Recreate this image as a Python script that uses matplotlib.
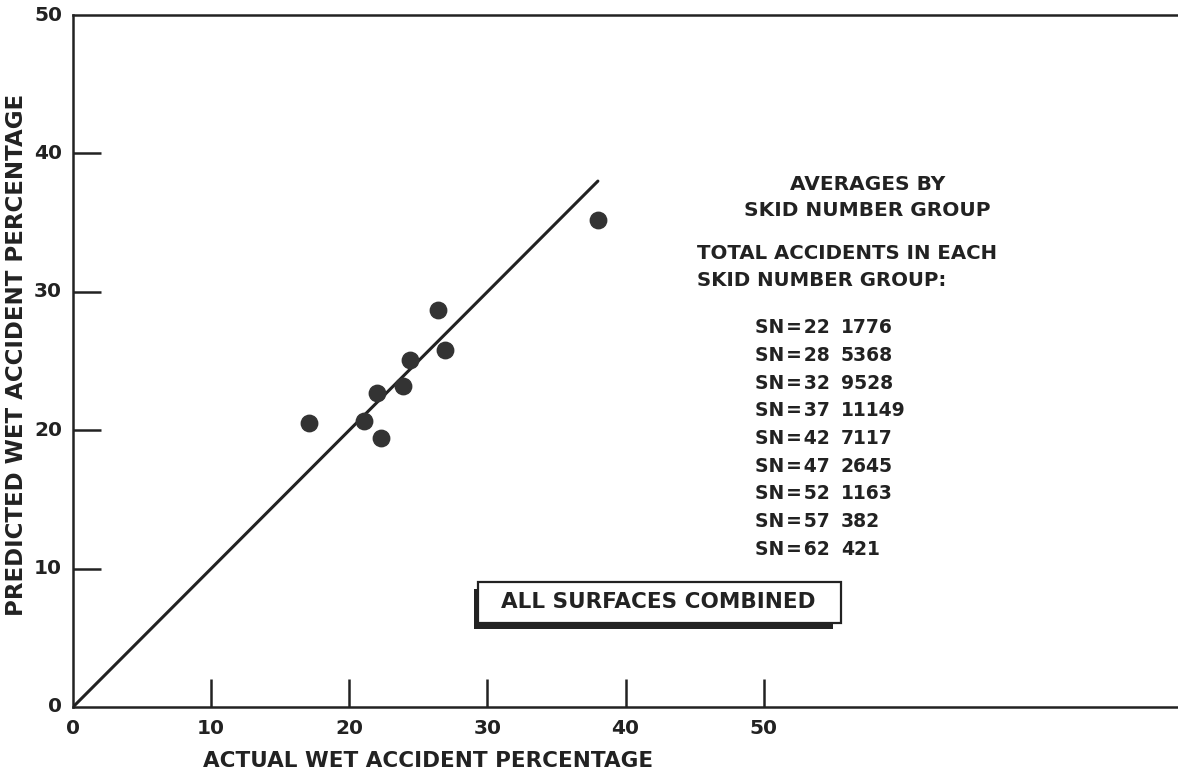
import matplotlib.pyplot as plt
from matplotlib.patches import Rectangle

# averages by skid number group
actual = [17.1, 21.1, 22.0, 22.3, 23.9, 24.4, 26.4, 26.9, 38.0]
predicted = [20.5, 20.7, 22.7, 19.4, 23.2, 25.1, 28.7, 25.8, 35.2]

# reference line (predicted = actual)
line_x = [0, 38]
line_y = [0, 38]

sn_groups = [22, 28, 32, 37, 42, 47, 52, 57, 62]
total_accidents = [1776, 5368, 9528, 11149, 7117, 2645, 1163, 382, 421]

x_ticks = [10, 20, 30, 40, 50]
y_ticks = [10, 20, 30, 40]

plt.rcParams["font.family"] = ["DejaVu Sans"]
plt.rcParams["font.weight"] = "bold"
ink = "#222222"

fig = plt.figure(figsize=(11.78, 7.74), dpi=100)
ax = fig.add_axes([0.062, 0.0866, 0.938, 0.894])

ax.plot(line_x, line_y, color=ink, lw=2.2, solid_capstyle="round")
ax.scatter(actual, predicted, s=140, color="#333333", zorder=3)

ax.set_xlim(0, 80)
ax.set_ylim(0, 50)

ax.spines["right"].set_visible(False)
for s in ["left", "top", "bottom"]:
    ax.spines[s].set_linewidth(1.8)
    ax.spines[s].set_color(ink)

ax.set_xticks(x_ticks)
ax.set_yticks(y_ticks)
ax.tick_params(direction="in", length=20, width=1.8, color=ink,
               labelbottom=False, labelleft=False)

# tick labels drawn separately so 0 and 50 can be labelled without tick marks
for v in [0] + x_ticks:
    ax.text(v, -0.9, str(v), ha="center", va="top", fontsize=14.5,
            fontweight="bold", color=ink)
for v in [0] + y_ticks + [50]:
    ax.text(-0.8, v, str(v), ha="right", va="center", fontsize=14.5,
            fontweight="bold", color=ink)

ax.set_xlabel("ACTUAL WET ACCIDENT PERCENTAGE", fontsize=15.5,
              fontweight="bold", color=ink)
ax.xaxis.set_label_coords(0.321, -0.064)
ax.set_ylabel("PREDICTED WET ACCIDENT PERCENTAGE", fontsize=16.5,
              fontweight="bold", color=ink)
ax.yaxis.set_label_coords(-0.041, 0.509)

# annotation block
ax.text(57.5, 36.8, "AVERAGES BY\nSKID NUMBER GROUP", ha="center", va="center",
        fontsize=14.5, fontweight="bold", color=ink, linespacing=1.45)
ax.text(45.2, 31.8, "TOTAL ACCIDENTS IN EACH\nSKID NUMBER GROUP:", ha="left",
        va="center", fontsize=14.2, fontweight="bold", color=ink,
        linespacing=1.5)

row_y = 27.4
for sn, n in zip(sn_groups, total_accidents):
    ax.text(49.4, row_y, f"SN\u200a=\u200a{sn}", ha="left", va="center",
            fontsize=13.5, fontweight="bold", color=ink)
    ax.text(55.6, row_y, str(n), ha="left", va="center", fontsize=13.5,
            fontweight="bold", color=ink)
    row_y -= 2.0

# boxed label with shadow
ax.add_patch(Rectangle((29.0, 5.6), 26.0, 2.9, facecolor=ink,
                       edgecolor="none", zorder=4))
ax.add_patch(Rectangle((29.3, 6.1), 26.3, 2.9, facecolor="white",
                       edgecolor=ink, lw=1.6, zorder=5))
ax.text(42.4, 7.55, "ALL SURFACES COMBINED", ha="center", va="center",
        fontsize=15.5, fontweight="bold", color=ink, zorder=6)

fig.savefig("out.png", dpi=100)
